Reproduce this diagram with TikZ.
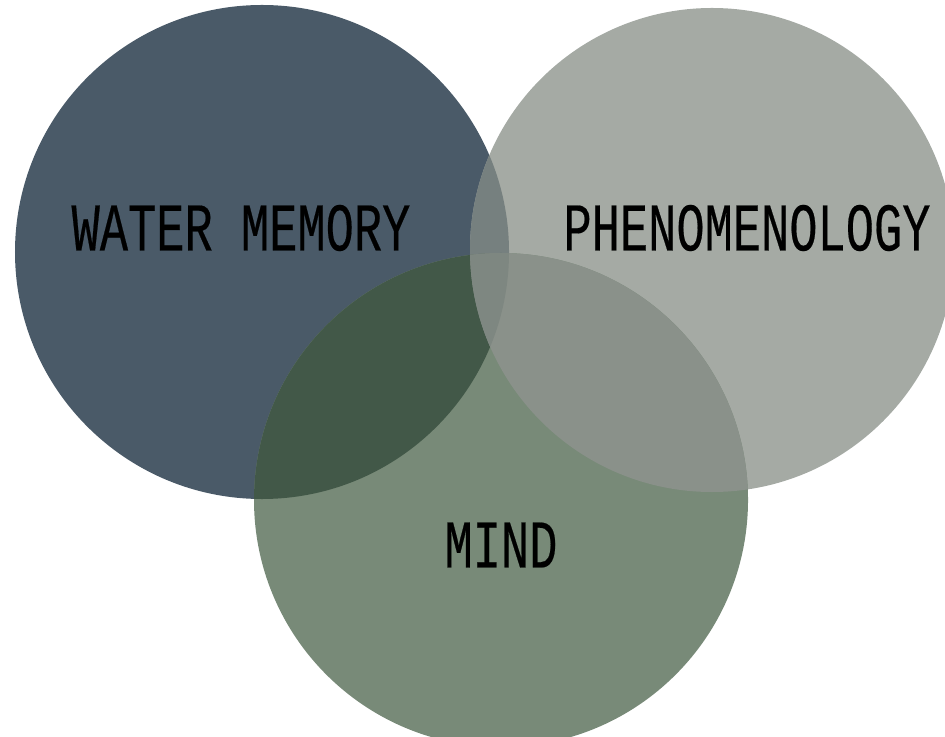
\documentclass[tikz,border=0pt]{standalone}
\usepackage{fontspec}
\usetikzlibrary{positioning}
\newfontfamily\lblfont[FakeStretch=0.69, FakeBold=0.3]{Liberation Mono}
\definecolor{cwm}{HTML}{4A5A68}
\definecolor{cph}{HTML}{A5AAA4}
\definecolor{cmd}{HTML}{788A78}
\definecolor{cwp}{HTML}{76807F}
\definecolor{cwd}{HTML}{425848}
\definecolor{cpd}{HTML}{8A918A}
\definecolor{call}{HTML}{7E8781}

\begin{document}
\begin{tikzpicture}[
        lbl/.style={font=\lblfont\fontsize{19.4pt}{20pt}\selectfont, text=black, inner sep=0pt}]
        \useasboundingbox (0,0) rectangle (9.45,7.36);
        \coordinate (wm) at (2.62,4.84);
        \coordinate (ph) at (7.12,4.86);
        \coordinate (md) at (5.01,2.36);
        % circles
        \fill[cwm] (wm) circle (2.47);
        \fill[cph] (ph) circle (2.42);
        \fill[cmd] (md) circle (2.47);
        % overlaps
        \begin{scope}
            \clip (wm) circle (2.47);
            \fill[cwp] (ph) circle (2.42);
            \fill[cwd] (md) circle (2.47);
        \end{scope}
        \begin{scope}
            \clip (ph) circle (2.42);
            \fill[cpd] (md) circle (2.47);
            \clip (wm) circle (2.47);
            \fill[call] (md) circle (2.47);
        \end{scope}
        % labels
        \node[lbl] (twm) at (2.41,5.08) {WATER MEMORY};
        \node[lbl] (tph) at (7.47,5.08) {PHENOMENOLOGY};
        \node[lbl] (tmd) at (5.01,1.91) {MIND};
    \end{tikzpicture}
\end{document}
